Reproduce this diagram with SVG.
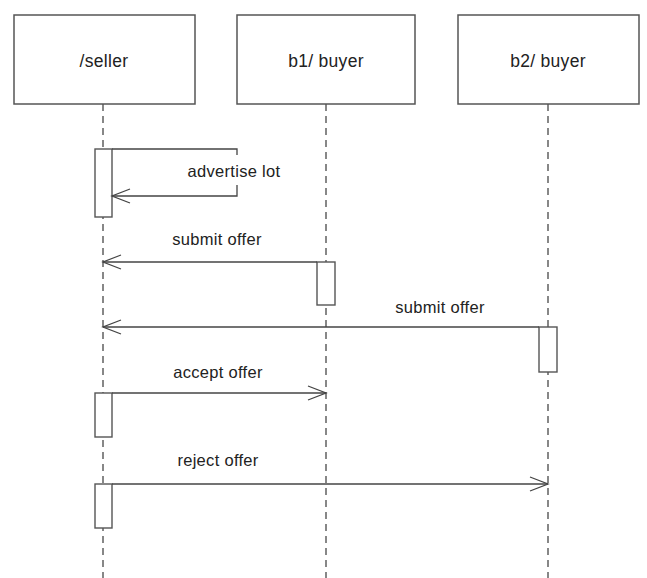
<svg xmlns="http://www.w3.org/2000/svg" width="647" height="578" viewBox="0 0 647 578">
<style>
.box{fill:#fff;stroke:#555;stroke-width:1.5}
.life{stroke:#555;stroke-width:1.4;stroke-dasharray:7 5;fill:none}
.act{fill:#fff;stroke:#555;stroke-width:1.4}
.msg{fill:none;stroke:#444;stroke-width:1.3}
.lblbg{fill:#fff;stroke:none}
.nl{font-family:"Liberation Sans",Arial,sans-serif;font-size:17.5px;letter-spacing:0.3px;fill:#222;text-anchor:middle}
.ml{font-family:"Liberation Sans",Arial,sans-serif;font-size:16.5px;letter-spacing:0.3px;fill:#222;text-anchor:middle}
</style>
<defs>
<marker id="open" viewBox="-20 -10 22 20" refX="0" refY="0" markerWidth="22" markerHeight="20" markerUnits="userSpaceOnUse" orient="auto">
<path d="M-18,-7 L0,0 L-18,7" fill="none" stroke="#444" stroke-width="1.3"/>
</marker>
</defs>
<rect width="647" height="578" fill="#fff"/>
<g id="seller">
<rect class="box" x="14" y="15" width="181" height="89"/>
<text class="nl" x="104" y="67">/seller</text>
<line class="life" x1="103" y1="104" x2="103" y2="578"/>
</g>
<g id="b1">
<rect class="box" x="237" y="15" width="178" height="89"/>
<text class="nl" x="326" y="67">b1/ buyer</text>
<line class="life" x1="326" y1="104" x2="326" y2="578"/>
</g>
<g id="b2">
<rect class="box" x="458" y="15" width="181" height="89"/>
<text class="nl" x="548" y="67">b2/ buyer</text>
<line class="life" x1="548" y1="104" x2="548" y2="578"/>
</g>
<g id="activations">
<rect class="act" x="95" y="149" width="17" height="68"/>
<rect class="act" x="317" y="262" width="18" height="43"/>
<rect class="act" x="539" y="327" width="18" height="45"/>
<rect class="act" x="95" y="393" width="17" height="44"/>
<rect class="act" x="95" y="484" width="17" height="44"/>
</g>
<g id="connectors">
<path class="msg" d="M112,149 H237 V196 H112" marker-end="url(#open)"/>
<rect class="lblbg" x="182" y="155" width="106" height="30"/>
<text class="ml" x="234" y="177">advertise lot</text>
<line class="msg" x1="317" y1="262" x2="103" y2="262" marker-end="url(#open)"/>
<text class="ml" x="217" y="245">submit offer</text>
<line class="msg" x1="539" y1="327" x2="103" y2="327" marker-end="url(#open)"/>
<text class="ml" x="440" y="313">submit offer</text>
<line class="msg" x1="112" y1="393" x2="326" y2="393" marker-end="url(#open)"/>
<text class="ml" x="218" y="378">accept offer</text>
<line class="msg" x1="112" y1="484" x2="548" y2="484" marker-end="url(#open)"/>
<text class="ml" x="218" y="466">reject offer</text>
</g>
</svg>
